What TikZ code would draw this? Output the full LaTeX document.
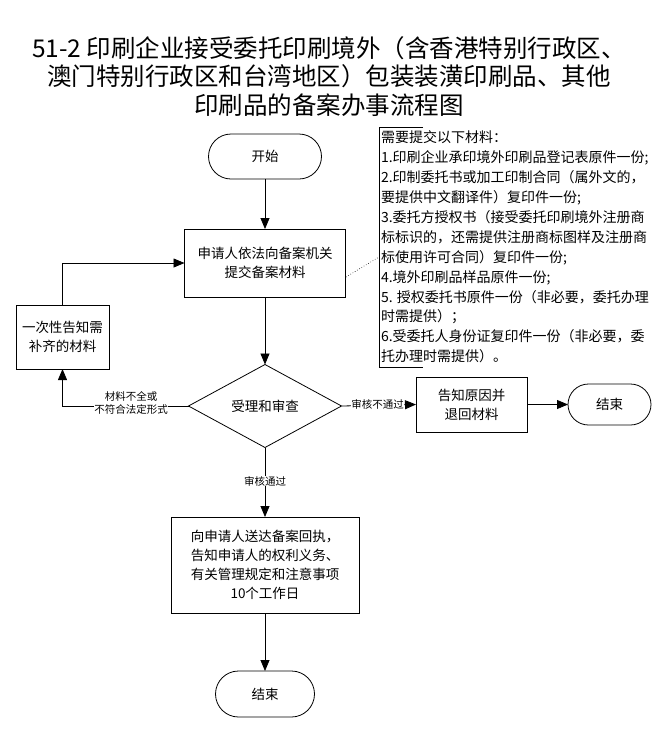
\documentclass[tikz,border=0pt]{standalone}
\usepackage{fontspec}
\setmainfont{Noto Sans CJK SC}
\usetikzlibrary{shapes.geometric,arrows.meta}
\begin{document}
\begin{tikzpicture}[x=1pt,y=-1pt,
  every node/.style={inner sep=0pt, outer sep=0pt},
  proc/.style={draw, rectangle, align=center, line width=0.8pt, font=\fontsize{13.5}{19}\selectfont},
  termbox/.style={draw, rectangle, align=center, line width=0.8pt, font=\fontsize{13.5}{19}\selectfont},
  decide/.style={draw, diamond, align=center, line width=0.8pt, font=\fontsize{13.5}{19}\selectfont},
  lbl/.style={fill=white, align=center, font=\fontsize{10.5}{12.5}\selectfont},
  arr/.style={-{Triangle[length=11pt,width=9pt]}, line width=0.8pt},
  conn/.style={line width=0.8pt},
]
\useasboundingbox (0,0) rectangle (661,740);
\fill[white] (0,0) rectangle (661,740);

% title
\node[align=center, font=\fontsize{24.5}{28.5}\selectfont] (title) at (329,76.5)
  {51-2 印刷企业接受委托印刷境外（含香港特别行政区、\\澳门特别行政区和台湾地区）包装装潢印刷品、其他\\印刷品的备案办事流程图};

% nodes
\node[termbox, rounded corners=22.5pt, minimum width=113pt, minimum height=45pt] (start) at (265,156.5) {开始};
\node[proc, minimum width=161pt, minimum height=68pt] (apply) at (265,263) {申请人依法向备案机关\\提交备案材料};
\node[decide, minimum width=153pt, minimum height=83pt] (check) at (265,406) {受理和审查};
\node[proc, minimum width=93pt, minimum height=64pt] (notify) at (62.5,337) {一次性告知需\\补齐的材料};
\node[proc, minimum width=111pt, minimum height=55pt] (ret) at (471.5,404.5) {告知原因并\\退回材料};
\node[termbox, rounded corners=20.5pt, minimum width=83pt, minimum height=41pt] (end1) at (609.5,404.5) {结束};
\node[proc, minimum width=188pt, minimum height=96pt] (deliver) at (265,565) {向申请人送达备案回执，\\告知申请人的权利义务、\\有关管理规定和注意事项\\10个工作日};
\node[termbox, rounded corners=23pt, minimum width=99pt, minimum height=46pt] (end2) at (265,694) {结束};

% notes bracket
\coordinate (bt) at (423,127);
\coordinate (btl) at (379,127);
\coordinate (bbl) at (379,367);
\coordinate (bb) at (423,367);
\coordinate (bmid) at (379,257);
\coordinate (boxpt) at (346,277);
\draw[conn] (bt) -- (btl) -- (bbl) -- (bb);
\draw[line width=0.6pt, dotted] (boxpt) -- (bmid);
\node[anchor=north west, align=left, font=\fontsize{14}{19.9}\selectfont] (notes) at (381,131)
  {需要提交以下材料：\\
   1.印刷企业承印境外印刷品登记表原件一份;\\
   2.印制委托书或加工印制合同（属外文的，\\
   要提供中文翻译件）复印件一份;\\
   3.委托方授权书（接受委托印刷境外注册商\\
   标标识的，还需提供注册商标图样及注册商\\
   标使用许可合同）复印件一份;\\
   4.境外印刷品样品原件一份;\\
   5. 授权委托书原件一份（非必要，委托办理\\
   时需提供）；\\
   6.受委托人身份证复印件一份（非必要，委\\
   托办理时需提供）。};

% connectors
\draw[arr] (start.south) -- (apply.north);
\draw[arr] (notify.north) |- (apply.west);
\draw[arr] (apply.south) -- (check.north);
\draw[arr] (check.west) -| (notify.south);
\node[lbl] (lfail) at (131,403) {材料不全或\\不符合法定形式};
\draw[arr] (check.east) -- (ret.west);
\node[lbl] (lno) at (377.5,404) {审核不通过};
\draw[arr] (ret.east) -- (end1.west);
\draw[arr] (check.south) -- (deliver.north);
\node[lbl] (lok) at (265,481) {审核通过};
\draw[arr] (deliver.south) -- (end2.north);
\end{tikzpicture}
\end{document}
